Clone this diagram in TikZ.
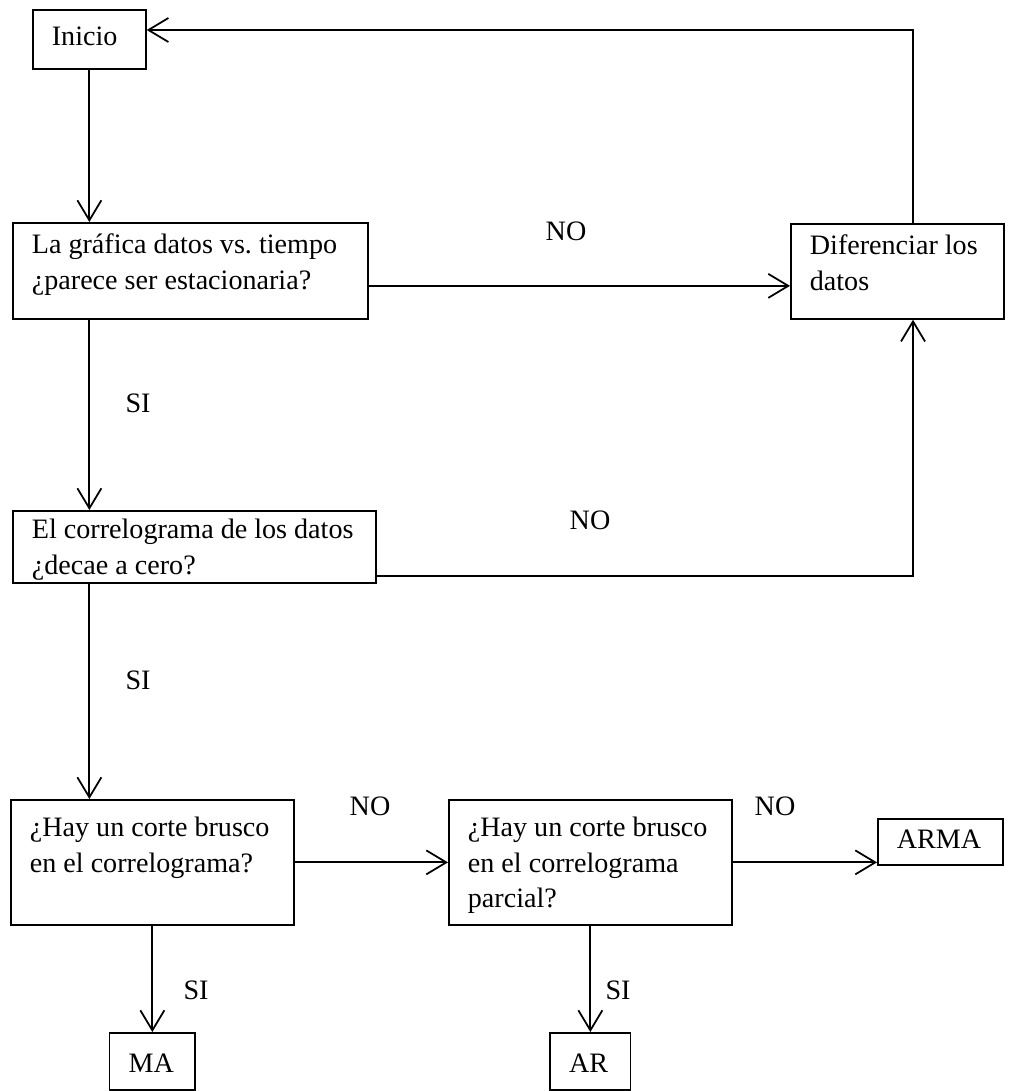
\documentclass[tikz,border=0pt]{standalone}
\usepackage{fontspec}
\setmainfont{Liberation Serif}
\usetikzlibrary{arrows.meta}
\begin{document}
\begin{tikzpicture}[x=0.02cm,y=-0.02cm]
	\tikzset{box/.style = {draw, line width=1pt, anchor=north west, align=flush left, inner xsep=0.38cm, inner ysep=0pt, font=\fontsize{16}{20}\selectfont\frenchspacing}}
	\tikzset{tag/.style = {inner sep=0pt, font=\fontsize{16}{20}\selectfont}}
	\tikzset{arr/.style = {-{Straight Barb[length=4mm,width=4.8mm]}, line width=1pt}}
	\useasboundingbox (0,0) rectangle (1022,1091);
	\coordinate (top) at (913,30);
	\coordinate (bot) at (0,1032);
	\node[box, text width=1.5cm, text height=0.72cm, text depth=0.46cm] (inicio) at (32,9) {Inicio};
	\node[box, text width=6.35cm, text height=0.62cm, text depth=1.3cm] (graf) at (12,222) {La gráfica datos vs. tiempo\\¿parece ser estacionaria?};
	\node[box, text width=3.5cm, text height=0.62cm, text depth=1.28cm] (dif) at (790,223) {Diferenciar los\\datos};
	\node[box, text width=6.5cm, text height=0.56cm, text depth=0.88cm] (corr) at (12,510) {El correlograma de los datos\\¿decae a cero?};
	\node[box, text width=4.9cm, text height=0.74cm, text depth=1.76cm] (corte) at (10,799) {¿Hay un corte brusco\\en el correlograma?};
	\node[box, text width=4.9cm, text height=0.74cm, text depth=1.76cm] (parcial) at (448,799) {¿Hay un corte brusco\\en el correlograma\\parcial?};
	\node[box, text width=1.75cm, text height=0.6cm, text depth=0.32cm] (arma) at (877,818) {ARMA};
	\node[box, anchor=north, text width=0.95cm, text height=0.8cm, text depth=0.34cm] (ma) at (corte.south |- bot) {MA};
	\node[box, anchor=north, text width=0.85cm, text height=0.8cm, text depth=0.34cm] (ar) at (parcial.south |- bot) {AR};
	% etiquetas
	\node[tag] (no1) at (566,231) {NO};
	\node[tag] (no2) at (590,520) {NO};
	\node[tag] (no3) at (370,806) {NO};
	\node[tag] (no4) at (775,806) {NO};
	\node[tag] (si1) at (138,403) {SI};
	\node[tag] (si2) at (138,680) {SI};
	\node[tag] (si3) at (196,990) {SI};
	\node[tag] (si4) at (618,990) {SI};
	% flechas
	\draw[arr] (dif.north -| top) -- (top) -- (top -| inicio.east);
	\draw[arr] (inicio.south) -- (inicio.south |- graf.north);
	\draw[arr] ([yshift=-0.3cm]graf.east) -- ([yshift=-0.3cm]graf.east -| dif.west);
	\draw[arr] (inicio.south |- graf.south) -- (inicio.south |- corr.north);
	\draw[arr] ([yshift=-0.58cm]corr.east) -| (dif.south -| top);
	\draw[arr] (inicio.south |- corr.south) -- (inicio.south |- corte.north);
	\path[draw, arr] (corte) edge (parcial);
	\draw[arr] (parcial.east) -- (parcial.east -| arma.west);
	\path[draw, arr] (corte) edge (ma);
	\path[draw, arr] (parcial) edge (ar);
\end{tikzpicture}
\end{document}
